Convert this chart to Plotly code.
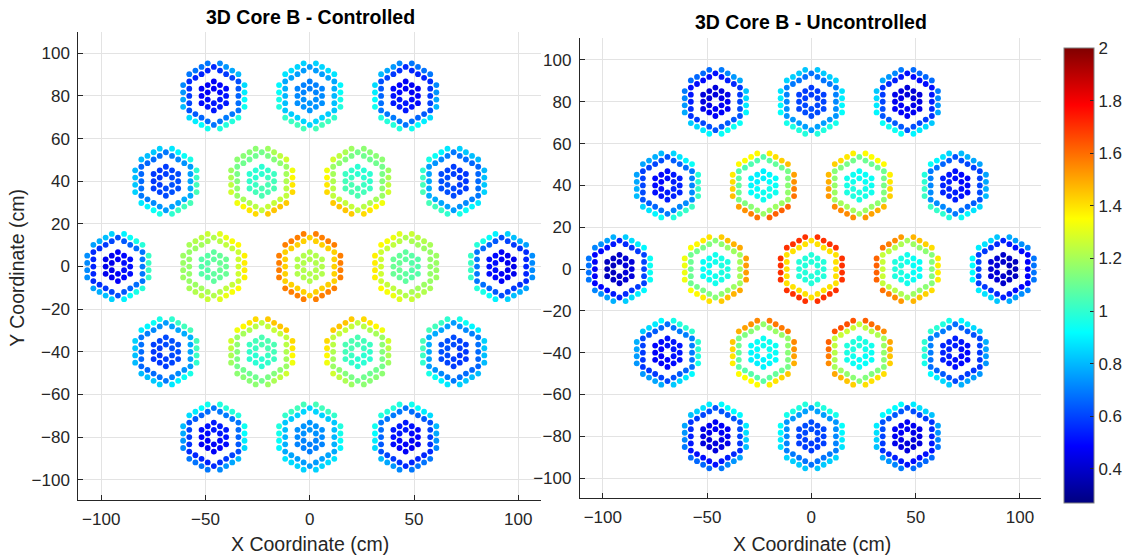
import numpy as np
import plotly.graph_objects as go

# ---------------- data ----------------
# assembly centres (cm), rows from top to bottom
asm_x = [-46, 0, 46, -69, -23, 23, 69, -92, -46, 0, 46, 92, -69, -23, 23, 69, -46, 0, 46]
asm_y = [80, 80, 80, 40, 40, 40, 40, 0, 0, 0, 0, 0, -40, -40, -40, -40, -80, -80, -80]

# Controlled core: inner-cluster value, ring-4 value, outer ring value (far side / side facing core centre)
ctrl_inner = [0.50, 0.72, 0.50, 0.60, 1.02, 1.02, 0.60, 0.48, 1.08, 1.22, 1.08, 0.48, 0.60, 1.02, 1.02, 0.60, 0.50, 0.72, 0.50]
ctrl_ring4 = [0.62, 0.80, 0.62, 0.72, 1.18, 1.18, 0.72, 0.62, 1.22, 1.43, 1.22, 0.62, 0.72, 1.18, 1.18, 0.72, 0.62, 0.80, 0.62]
ctrl_out_far = [0.68, 0.84, 0.68, 0.80, 1.15, 1.15, 0.80, 0.72, 1.18, 1.57, 1.18, 0.72, 0.80, 1.15, 1.15, 0.80, 0.68, 0.84, 0.68]
ctrl_out_near = [0.98, 1.04, 0.98, 1.04, 1.45, 1.45, 1.04, 1.02, 1.38, 1.57, 1.38, 1.02, 1.04, 1.45, 1.45, 1.04, 0.98, 1.04, 0.98]

# Uncontrolled core
unc_inner = [0.45, 0.60, 0.45, 0.52, 0.92, 0.95, 0.52, 0.40, 0.95, 0.98, 0.95, 0.40, 0.50, 0.92, 0.95, 0.52, 0.45, 0.60, 0.45]
unc_ring4 = [0.57, 0.72, 0.57, 0.66, 1.12, 1.15, 0.66, 0.54, 1.15, 1.40, 1.20, 0.54, 0.64, 1.12, 1.20, 0.64, 0.57, 0.72, 0.57]
unc_out_far = [0.66, 0.82, 0.66, 0.76, 1.35, 1.35, 0.76, 0.68, 1.32, 1.70, 1.38, 0.68, 0.74, 1.35, 1.40, 0.74, 0.66, 0.82, 0.66]
unc_out_near = [0.94, 0.98, 0.94, 1.02, 1.62, 1.55, 1.02, 0.94, 1.52, 1.70, 1.62, 0.92, 1.00, 1.58, 1.65, 1.00, 0.92, 0.98, 0.92]

c_min, c_max = 0.27, 2.0
cbar_ticks = [0.4, 0.6, 0.8, 1.0, 1.2, 1.4, 1.6, 1.8, 2.0]
x_ticks = [-100, -50, 0, 50, 100]
y_ticks = list(range(-100, 101, 20))

# ---------------- geometry of one assembly ----------------
PITCH = 3.4
offs = []  # (dx, dy, ring)
N = 5
for q in range(-N, N + 1):
    for r in range(-N, N + 1):
        s = -q - r
        ring = max(abs(q), abs(r), abs(s))
        if ring > N or ring == 0 or ring == 3:
            continue
        if ring == 5 and min(abs(q), abs(r), abs(s)) == 0:
            continue  # corner positions are empty
        offs.append((PITCH * np.sqrt(3) / 2 * q, PITCH * (r + q / 2), ring))


def build(inner, ring4, far, near):
    xs, ys, vs = [], [], []
    for i in range(len(asm_x)):
        cx, cy = asm_x[i], asm_y[i]
        d = np.hypot(cx, cy)
        ux, uy = (-cx / d, -cy / d) if d > 0 else (0.0, 0.0)
        half = (near[i] - far[i]) / 2
        mid = (near[i] + far[i]) / 2
        for dx, dy, ring in offs:
            cos_t = (dx * ux + dy * uy) / np.hypot(dx, dy)
            if ring == 5:
                v = mid + half * cos_t
            elif ring == 4:
                v = ring4[i] + 0.5 * half * cos_t
            else:
                v = inner[i] + 0.2 * half * cos_t
            xs.append(cx + dx)
            ys.append(cy + dy)
            vs.append(v)
    return xs, ys, vs


jet = [[0.0, "rgb(0,0,128)"], [0.125, "rgb(0,0,255)"], [0.375, "rgb(0,255,255)"],
       [0.625, "rgb(255,255,0)"], [0.875, "rgb(255,0,0)"], [1.0, "rgb(128,0,0)"]]

fig = go.Figure()
for (inn, r4, fa, ne), xa, ya in [((ctrl_inner, ctrl_ring4, ctrl_out_far, ctrl_out_near), "x", "y"),
                                  ((unc_inner, unc_ring4, unc_out_far, unc_out_near), "x2", "y2")]:
    xs, ys, vs = build(inn, r4, fa, ne)
    fig.add_trace(go.Scatter(x=xs, y=ys, mode="markers", xaxis=xa, yaxis=ya,
                             marker=dict(size=5.8, color=vs, coloraxis="coloraxis", line=dict(width=0)),
                             showlegend=False, hoverinfo="skip"))

W, H = 1137, 560


def px(x):
    return x / W


def py(y):
    return 1 - y / H


FONT = "Liberation Sans, Arial, sans-serif"
TXT = "#262626"
ax_common = dict(showgrid=True, gridcolor="#e3e3e3", gridwidth=1, zeroline=False,
                 showline=True, linecolor=TXT, linewidth=1, ticks="inside", ticklen=5,
                 tickcolor=TXT, tickfont=dict(family=FONT, size=17, color=TXT),
                 mirror=False, fixedrange=True)

fig.update_layout(
    width=W, height=H, margin=dict(l=0, r=0, t=0, b=0),
    paper_bgcolor="white", plot_bgcolor="white",
    xaxis=dict(domain=[px(79), px(546)], range=[-111, 111], tickvals=x_ticks, anchor="y",
               ticklabelstandoff=4, **ax_common),
    yaxis=dict(domain=[py(500), py(32)], range=[-109.5, 110], tickvals=y_ticks, anchor="x",
               ticklabelstandoff=4, **ax_common),
    xaxis2=dict(domain=[px(585), px(1050)], range=[-111, 110], tickvals=x_ticks, anchor="y2",
                ticklabelstandoff=4, **ax_common),
    yaxis2=dict(domain=[py(498), py(38)], range=[-109.5, 110.5], tickvals=y_ticks, anchor="x2",
                ticklabelstandoff=4, **ax_common),
    coloraxis=dict(colorscale=jet, cmin=c_min, cmax=c_max,
                   colorbar=dict(x=px(1063), xanchor="left", y=py(513), yanchor="bottom",
                                 len=475 / H, lenmode="fraction", thickness=30, thicknessmode="pixels",
                                 outlinecolor="#7f7f7f", outlinewidth=1, tickvals=cbar_ticks,
                                 ticks="inside", ticklen=4, tickcolor=TXT,
                                 tickfont=dict(family=FONT, size=17, color=TXT))),
    annotations=[
        dict(text="<b>3D Core B - Controlled</b>", x=px(313), y=py(17), xref="paper", yref="paper",
             showarrow=False, font=dict(family=FONT, size=19.5, color="black"), xanchor="center", yanchor="middle"),
        dict(text="<b>3D Core B - Uncontrolled</b>", x=px(818), y=py(22), xref="paper", yref="paper",
             showarrow=False, font=dict(family=FONT, size=19.5, color="black"), xanchor="center", yanchor="middle"),
        dict(text="X Coordinate (cm)", x=px(313), y=py(544), xref="paper", yref="paper",
             showarrow=False, font=dict(family=FONT, size=19.5, color=TXT), xanchor="center", yanchor="middle"),
        dict(text="X Coordinate (cm)", x=px(819), y=py(544), xref="paper", yref="paper",
             showarrow=False, font=dict(family=FONT, size=19.5, color=TXT), xanchor="center", yanchor="middle"),
        dict(text="Y Coordinate (cm)", x=px(17), y=py(268), xref="paper", yref="paper", textangle=-90,
             showarrow=False, font=dict(family=FONT, size=19.5, color=TXT), xanchor="center", yanchor="middle"),
    ],
)

# remove the default page margin so the figure fills the 1137x560 window exactly
fig.write_html("out.html", config={"displayModeBar": False},
               post_script="document.documentElement.style.overflow='hidden';"
                           "document.body.style.margin='0';document.body.style.overflow='hidden';")
